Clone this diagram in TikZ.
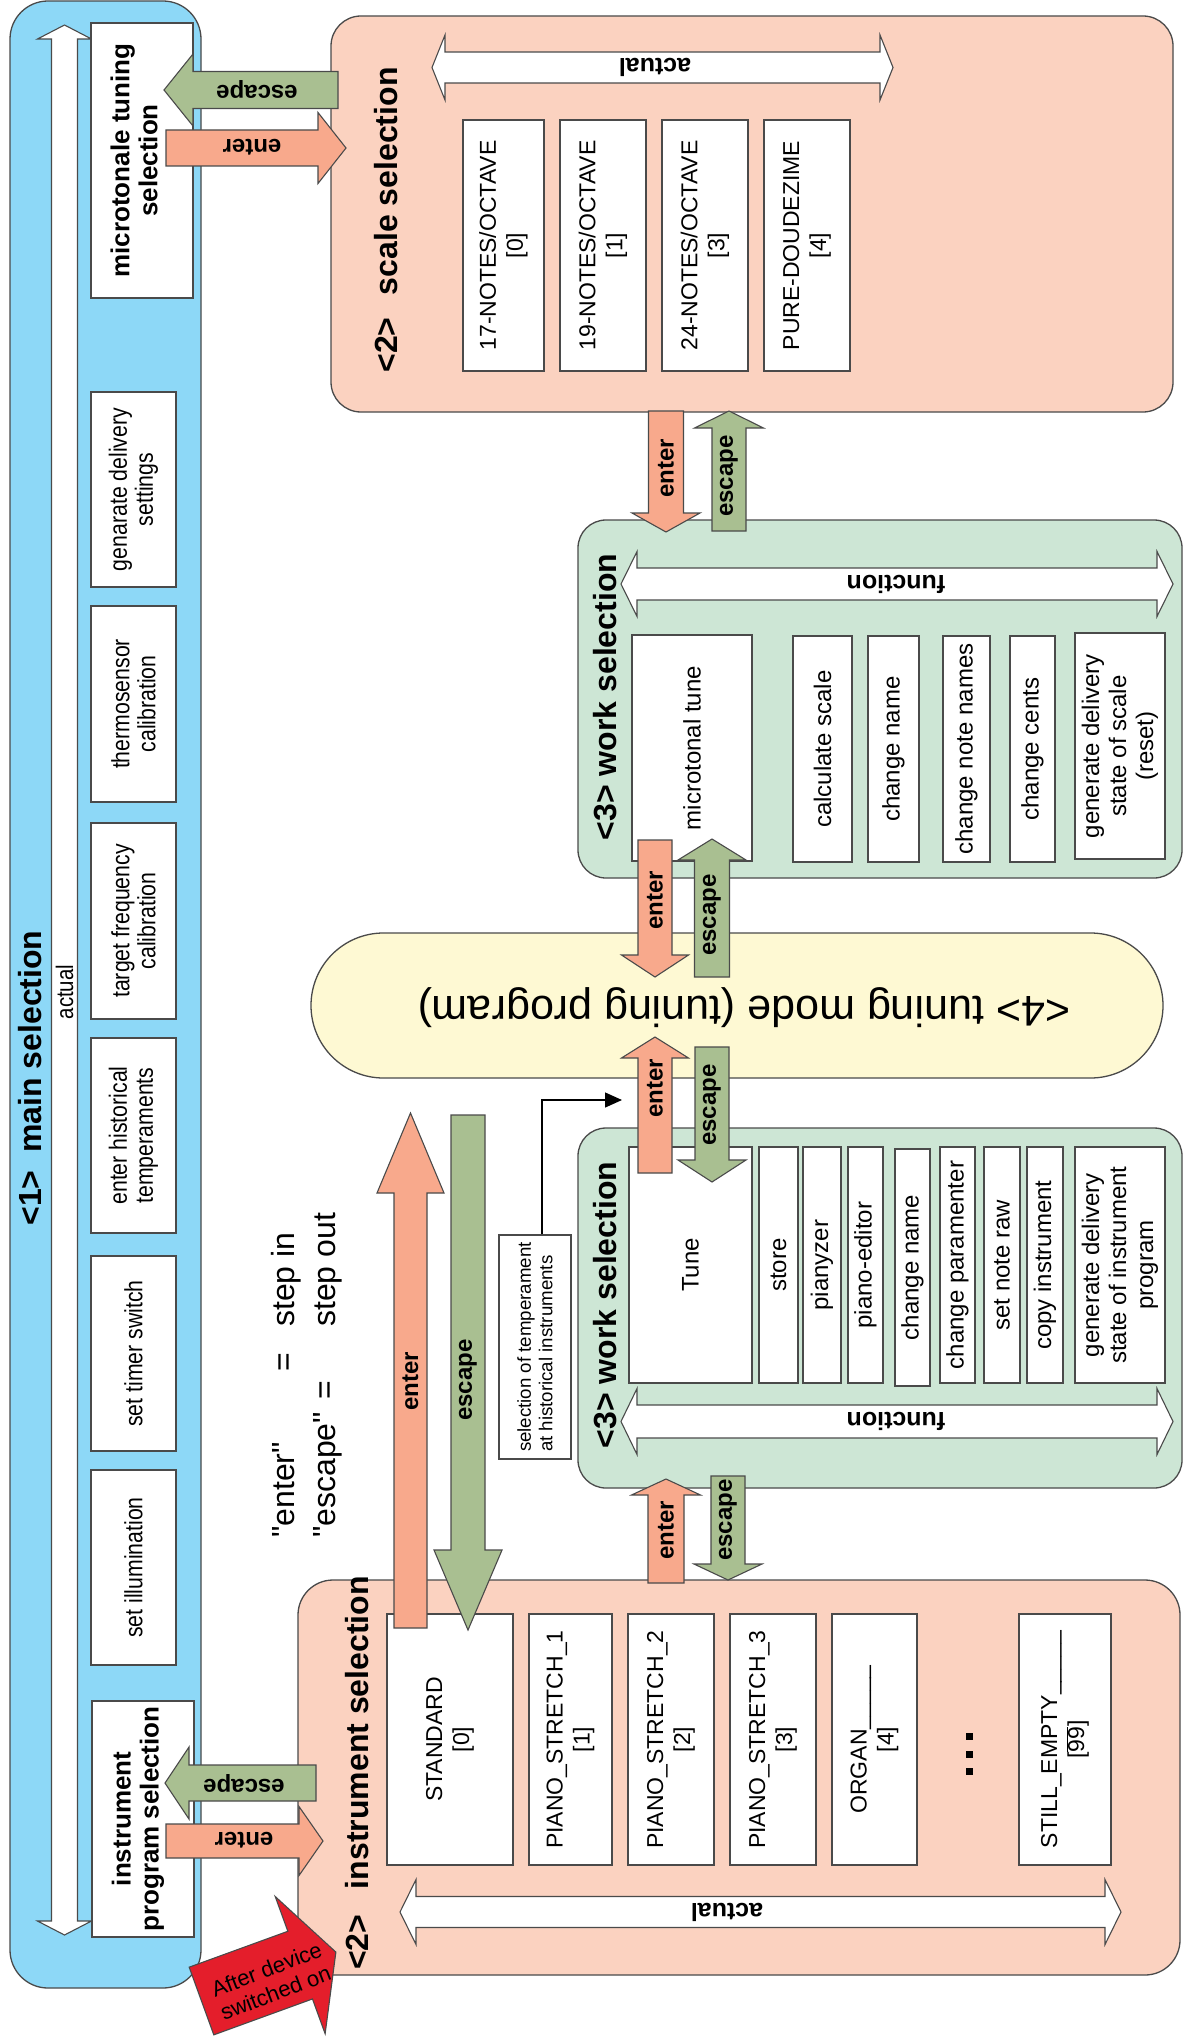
\documentclass[tikz,border=0pt]{standalone}
\usepackage{fontspec}
\setmainfont{Liberation Sans}
\newfontfamily\narrowfont{Liberation Sans}[FakeStretch=0.85]
\newfontfamily\plainquotes{Liberation Sans}[Ligatures=TeXOff]
\usetikzlibrary{fit,arrows.meta}
\definecolor{cblue}{HTML}{8DD8F7}
\definecolor{csal}{HTML}{FBD2C0}
\definecolor{cgrn}{HTML}{CDE6D5}
\definecolor{cyel}{HTML}{FEF9D3}
\definecolor{asal}{HTML}{F8A98C}
\definecolor{agrn}{HTML}{A9BF91}
\definecolor{cred}{HTML}{E41E2B}
\definecolor{cline}{HTML}{4A4A4A}
\newcommand\fs[2]{\fontsize{#1}{#2}\selectfont}
\tikzset{
  grp/.style={draw=cline, line width=1.3pt, inner sep=0pt},
  wbox/.style={draw=cline, fill=white, line width=1.2pt, inner sep=0pt},
  boxtxt/.style={rotate=90, align=center, font=\fs{23}{27}, inner sep=0pt},
  worktxt/.style={rotate=90, align=center, font=\fs{24}{27}, inner sep=0pt},
  bluetxt/.style={rotate=90, align=center, font=\narrowfont\fs{25}{26}, inner sep=0pt},
  boldtxt/.style={rotate=90, align=center, font=\bfseries\fs{26}{28}, inner sep=0pt},
  titletxt/.style={rotate=90, font=\bfseries\fs{32}{36}, inner sep=0pt},
  vlbl/.style={rotate=90, font=\bfseries\fs{24}{28}, inner sep=0pt},
  hlbl/.style={rotate=180, font=\bfseries\fs{24}{28}, inner sep=0pt},
  dlbl/.style={rotate=180, font=\bfseries\fs{25}{28}, inner sep=0pt},
  legendtxt/.style={rotate=90, anchor=base west, inner sep=0pt, font=\plainquotes\fs{32}{38}},
  blockarrow/.style={draw=cline, line width=1.1pt, line join=miter},
}
\newcommand\sarrow[8]{%
  \begin{scope}[shift={(#2,#3)},rotate=#4]
    \path[blockarrow,#1] (0,{-(#6)/2}) -- ({(#5)-(#8)},{-(#6)/2}) -- ({(#5)-(#8)},{-(#7)/2}) -- (#5,0) -- ({(#5)-(#8)},{(#7)/2}) -- ({(#5)-(#8)},{(#6)/2}) -- (0,{(#6)/2}) -- cycle;
  \end{scope}}
\newcommand\darrow[8]{%
  \begin{scope}[shift={(#2,#3)},rotate=#4]
    \path[blockarrow,#1] (0,0) -- (#8,{(#7)/2}) -- (#8,{(#6)/2}) -- ({(#5)-(#8)},{(#6)/2}) -- ({(#5)-(#8)},{(#7)/2}) -- (#5,0) -- ({(#5)-(#8)},{-(#7)/2}) -- ({(#5)-(#8)},{-(#6)/2}) -- (#8,{-(#6)/2}) -- (#8,{-(#7)/2}) -- cycle;
  \end{scope}}
\newcommand\tbox[5]{%
  \node[wbox, fit={#2 #3}] (#1) {};
  \node[#4] (#1t) at (#1.center) {#5};}

\begin{document}
\begin{tikzpicture}[x=1pt,y=-1pt]
\useasboundingbox (0,0) rectangle (1185,2044);
\fill[white] (0,0) rectangle (1185,2044);

% ---------- group boxes
\node[grp, fill=cblue, rounded corners=38pt, fit={(10,1) (201,1988)}] (mainsel) {};
\node[grp, fill=csal, rounded corners=30pt, fit={(331,16) (1173,412)}] (scalesel) {};
\node[grp, fill=cgrn, rounded corners=28pt, fit={(578,520) (1182,878)}] (work1) {};
\node[grp, fill=cyel, rounded corners=72.5pt, fit={(311,933) (1163,1078)}] (tuning) {};
\node[grp, fill=cgrn, rounded corners=28pt, fit={(578,1128) (1182,1488)}] (work2) {};
\node[grp, fill=csal, rounded corners=35pt, fit={(298,1580) (1180,1975)}] (instsel) {};

% ---------- main selection content
\darrow{fill=white}{64.5}{1935}{90}{1910}{26}{54}{14}
\node[rotate=90, font=\narrowfont\fs{24}{26}, inner sep=0pt] (mainactual) at (64.5,992) {actual};
\node[titletxt] (t1) at (30,1078) {<1>\hspace{0.55em}main selection};
\node[wbox, fit={(91,23) (193,298)}] (micro) {};
\node[boldtxt] (microt) at ([xshift=-8pt]micro.center) {microtonale tuning\\selection};
\tbox{gendel}{(91,392)}{(176,587)}{bluetxt}{genarate delivery\\settings}
\tbox{thermo}{(91,606)}{(176,802)}{bluetxt}{thermosensor\\calibration}
\tbox{target}{(91,823)}{(176,1019)}{bluetxt}{target frequency\\calibration}
\tbox{hist}{(91,1038)}{(176,1233)}{bluetxt}{enter historical\\temperaments}
\tbox{timer}{(91,1256)}{(176,1451)}{bluetxt}{set timer switch}
\tbox{illum}{(91,1470)}{(176,1665)}{bluetxt}{set illumination}
\node[wbox, fit={(92,1701) (194,1937)}] (instprog) {};
\node[boldtxt] (instprogt) at ([xshift=-5pt]instprog.center) {instrument\\program selection};

% ---------- scale selection
\node[titletxt] (t2) at (386,220) {<2>\hspace{0.7em}scale selection};
\darrow{fill=white}{432}{67.5}{0}{461}{31}{65}{13}
\node[dlbl] (sactual) at (655,67) {actual};
\tbox{s17}{(463,120)}{(544,371)}{boxtxt}{17-NOTES/OCTAVE\\{[0]}}
\tbox{s19}{(560,120)}{(646,371)}{boxtxt}{19-NOTES/OCTAVE\\{[1]}}
\tbox{s24}{(662,120)}{(748,371)}{boxtxt}{24-NOTES/OCTAVE\\{[3]}}
\tbox{spure}{(764,120)}{(850,371)}{boxtxt}{PURE-DOUDEZIME\\{[4]}}

% ---------- work selection 1
\node[titletxt] (t3a) at (605,697) {<3> work selection};
\darrow{fill=white}{621}{584}{0}{552}{32}{65}{16}
\node[dlbl] (func1) at (896,584) {function};
\tbox{mtune}{(632,635)}{(752,861)}{worktxt}{microtonal tune}
\tbox{calc}{(793,636)}{(852,862)}{worktxt}{calculate scale}
\tbox{cname1}{(868,636)}{(919,862)}{worktxt}{change name}
\tbox{cnote}{(943,636)}{(990,862)}{worktxt}{change note names}
\tbox{ccent}{(1010,636)}{(1055,862)}{worktxt}{change cents}
\tbox{gscale}{(1075,633)}{(1165,859)}{worktxt}{generate delivery\\state of scale\\(reset)}

% ---------- tuning mode
\node[rotate=180, font=\fs{43}{48}, inner sep=0pt] (tunetxt) at (744,1008) {<4> tuning mode (tuning program)};

% ---------- work selection 2
\node[titletxt] (t3b) at (605,1305) {<3> work selection};
\darrow{fill=white}{621}{1421.5}{0}{552}{33}{66}{16}
\node[dlbl] (func2) at (896,1421) {function};
\tbox{tune}{(629,1147)}{(752,1383)}{worktxt}{Tune}
\tbox{store}{(759,1147)}{(798,1383)}{worktxt}{store}
\tbox{pianyzer}{(803,1147)}{(841,1383)}{worktxt}{pianyzer}
\tbox{peditor}{(848,1147)}{(883,1383)}{worktxt}{piano-editor}
\tbox{cname2}{(895,1149)}{(930,1386)}{worktxt}{change name}
\tbox{cparam}{(940,1147)}{(975,1383)}{worktxt}{change paramenter}
\tbox{noteraw}{(984,1147)}{(1020,1383)}{worktxt}{set note raw}
\tbox{copyins}{(1027,1147)}{(1063,1383)}{worktxt}{copy instrument}
\tbox{ginst}{(1075,1147)}{(1165,1383)}{worktxt}{generate delivery\\state of instrument\\program}

% ---------- instrument selection
\node[titletxt] (t4) at (357,1773) {<2>\hspace{0.8em}instrument selection};
\darrow{fill=white}{400}{1912}{0}{721}{31}{65}{16}
\node[dlbl] (iactual) at (727,1912) {actual};
\tbox{istd}{(387,1614)}{(513,1865)}{boxtxt}{STANDARD\\{[0]}}
\tbox{ip1}{(529,1614)}{(612,1865)}{boxtxt}{PIANO\_STRETCH\_1\\{[1]}}
\tbox{ip2}{(628,1614)}{(714,1865)}{boxtxt}{PIANO\_STRETCH\_2\\{[2]}}
\tbox{ip3}{(730,1614)}{(816,1865)}{boxtxt}{PIANO\_STRETCH\_3\\{[3]}}
\tbox{iorg}{(832,1614)}{(917,1865)}{boxtxt}{ORGAN\_\_\_\_\_\\{[4]}}
\tbox{iempty}{(1019,1614)}{(1111,1865)}{boxtxt}{STILL\_EMPTY\_\_\_\_\_\\{[$\overline{\mbox{99}}$]}}
\fill (965.5,1733) rectangle +(7,7);
\fill (965.5,1750.5) rectangle +(7,7);
\fill (965.5,1768) rectangle +(7,7);

% ---------- temperament note
\tbox{temper}{(499,1235)}{(571,1459)}{rotate=90, align=left, font=\fs{18.7}{21.5}, inner sep=0pt}{selection of temperament\\at historical instruments}
\coordinate (temptip) at (622,1100);
\draw[line width=1.3pt, -{Triangle[length=17pt,width=15pt]}] ([xshift=7pt]temper.north) |- (temptip);

% ---------- legend
\node[legendtxt] (legend1) at (294,1538) {\rlap{"enter"}\hspace{166.7pt}\rlap{=}\hspace{44.3pt}step in};
\node[legendtxt] (legend2) at (335,1538) {\rlap{"escape"}\hspace{138.7pt}\rlap{=}\hspace{72.3pt}step out};

% ---------- enter / escape arrows
\sarrow{fill=agrn}{338}{90}{180}{174}{37}{72}{29}
\node[hlbl] (l1) at (257,89) {escape};
\sarrow{fill=asal}{166}{148}{0}{180}{36}{71}{28}
\node[hlbl] (l2) at (252,147) {enter};
\sarrow{fill=agrn}{316}{1783}{180}{151}{36}{72}{24}
\node[hlbl] (l3) at (244,1783) {escape};
\sarrow{fill=asal}{166}{1841}{0}{157}{34}{69}{24}
\node[hlbl] (l4) at (244,1840) {enter};

\sarrow{fill=asal}{666}{411}{-90}{121}{35}{68}{19}
\node[vlbl] (l5) at (666,468) {enter};
\sarrow{fill=agrn}{729}{531}{90}{120}{34}{69}{17}
\node[vlbl] (l6) at (729,476) {escape};

\sarrow{fill=asal}{655}{840}{-90}{137}{34}{67}{22}
\node[vlbl] (l7) at (655,900) {enter};
\sarrow{fill=agrn}{712}{977}{90}{138}{35}{68}{21}
\node[vlbl] (l8) at (712,915) {escape};

\sarrow{fill=asal}{655}{1173}{90}{136}{34}{67}{21}
\node[vlbl] (l9) at (655,1088) {enter};
\sarrow{fill=agrn}{712}{1047}{-90}{135}{34}{68}{22}
\node[vlbl] (l10) at (712,1105) {escape};

\sarrow{fill=asal}{666}{1583}{90}{104}{36}{69}{16}
\node[vlbl] (l11) at (666,1530) {enter};
\sarrow{fill=agrn}{728}{1476}{-90}{104}{34}{68}{16}
\node[vlbl] (l12) at (728,1520) {escape};

\sarrow{fill=asal}{410.5}{1628}{90}{515}{33}{67}{80}
\node[vlbl] (l13) at (410.5,1381) {enter};
\sarrow{fill=agrn}{468}{1115}{-90}{515}{34}{68}{80}
\node[vlbl] (l14) at (468,1380) {escape};

% ---------- power-on arrow
\sarrow{fill=cred}{201.5}{2001}{20}{143}{72}{146}{38}
\node[rotate=21, align=center, font=\fs{22}{25}, inner sep=0pt] (poweron) at (271,1981) {After device\\switched on};
\end{tikzpicture}
\end{document}
